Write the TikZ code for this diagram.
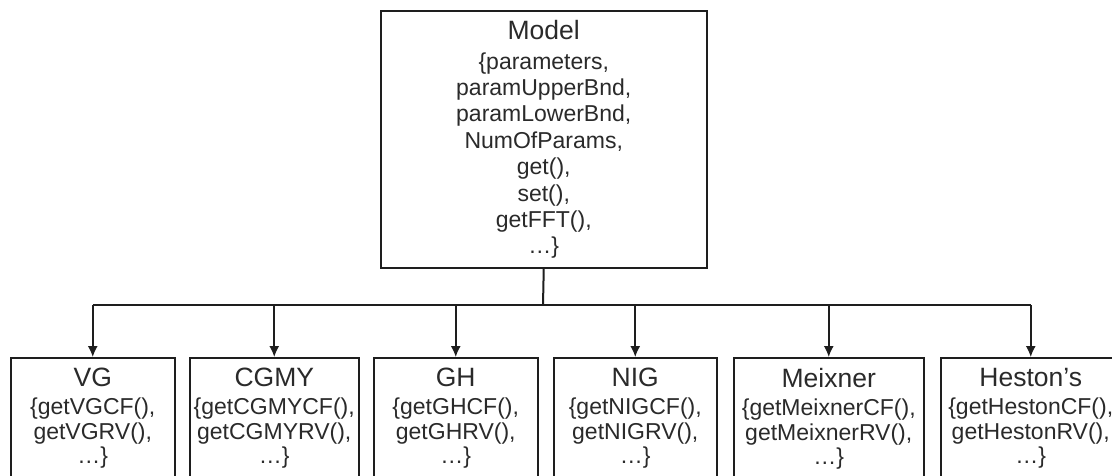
\documentclass[tikz,border=0pt]{standalone}
\usepackage{fontspec}
\setmainfont{Liberation Sans}
\usetikzlibrary{arrows.meta}
\definecolor{ink}{HTML}{1E1E1E}
\definecolor{txt}{HTML}{2A2A2A}
\tikzset{
  frame/.style={draw=ink, line width=1.5pt, fill=white, inner sep=0pt},
  modeltext/.style={text=txt, align=center, inner sep=0pt,
    font=\fontsize{23}{26.4}\selectfont},
  subtext/.style={text=txt, align=center, inner sep=0pt, anchor=north,
    font=\fontsize{23}{24.6}\selectfont},
  bus/.style={draw=ink, line width=2pt},
  arr/.style={draw=ink, line width=1.6pt, -{Latex[length=11pt,width=10pt]}},
}
\newcommand{\ttl}[1]{{\fontsize{26.5}{24.6}\selectfont #1}}
\begin{document}
\begin{tikzpicture}[x=1pt,y=-1pt]
\clip (0,0) rectangle (1112,475);
\fill[white] (0,0) rectangle (1112,475);

% base class
\node[frame, anchor=north west, minimum width=326pt, minimum height=257pt] (model) at (380,10) {};
\node[modeltext] (modelt) at (model.center)
  {{\fontsize{26.5}{26.4}\selectfont Model}\\[3.6pt]
   \{parameters,\\ paramUpperBnd,\\ paramLowerBnd,\\ NumOfParams,\\
   get(),\\ set(),\\ getFFT(),\\ \dots\}};

% derived models (boxes run past the lower edge)
\node[frame, anchor=north west, minimum width=164pt, minimum height=160pt] (vg) at (10,357) {};
\node[frame, anchor=north west, minimum width=169pt, minimum height=160pt] (cgmy) at (189,357) {};
\node[frame, anchor=north west, minimum width=164pt, minimum height=160pt] (gh) at (373,357) {};
\node[frame, anchor=north west, minimum width=163pt, minimum height=160pt] (nig) at (553,357) {};
\node[frame, anchor=north west, minimum width=190pt, minimum height=160pt] (meix) at (733,357) {};
\node[frame, anchor=north west, minimum width=180pt, minimum height=160pt] (hest) at (940,357) {};

\node[subtext] (vgt) at ([yshift=-11pt]vg.north) {\ttl{VG}\\[3.4pt] \{getVGCF(),\\ getVGRV(),\\ \dots\}};
\node[subtext] (cgmyt) at ([yshift=-11pt]cgmy.north) {\ttl{CGMY}\\[3.4pt] \{getCGMYCF(),\\ getCGMYRV(),\\ \dots\}};
\node[subtext] (ght) at ([yshift=-11pt]gh.north) {\ttl{GH}\\[3.4pt] \{getGHCF(),\\ getGHRV(),\\ \dots\}};
\node[subtext] (nigt) at ([yshift=-11pt]nig.north) {\ttl{NIG}\\[3.4pt] \{getNIGCF(),\\ getNIGRV(),\\ \dots\}};
\node[subtext] (meixt) at ([yshift=-11pt]meix.north) {\ttl{Meixner}\\[3.4pt] \{getMeixnerCF(),\\ getMeixnerRV(),\\ \dots\}};
\node[subtext] (hestt) at ([yshift=-11pt]hest.north) {\ttl{Heston’s}\\[3.4pt] \{getHestonCF(),\\ getHestonRV(),\\ \dots\}};

% inheritance connectors
\coordinate (junc) at (543,305);
\draw[bus] (model.south) -- (junc);
\draw[bus] (vg.north |- junc) -- (hest.north |- junc);
\foreach \b in {vg,cgmy,gh,nig,meix,hest}
  \draw[arr] (\b.north |- junc) -- (\b.north);
\end{tikzpicture}
\end{document}
